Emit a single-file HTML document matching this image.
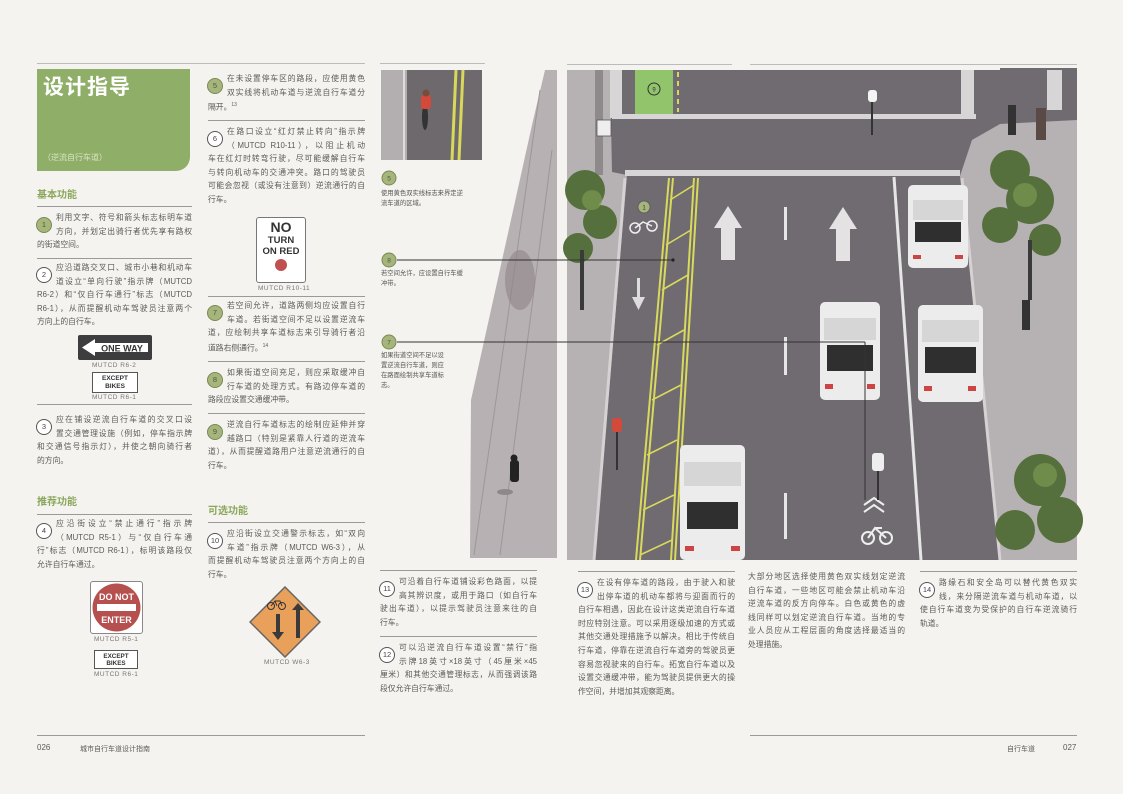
<!DOCTYPE html>
<html><head><meta charset="utf-8">
<style>
*{margin:0;padding:0;box-sizing:border-box}
body{width:1123px;height:794px;background:#f4f3ef;position:relative;overflow:hidden;font-family:"Liberation Sans","Noto Sans CJK SC",sans-serif;color:#5a5a5a}
.a{position:absolute}
.blk{position:absolute;font-size:7.8px}
.l{height:13.6px;line-height:13.6px;text-align:justify;text-align-last:justify;white-space:nowrap}
.i{padding-left:19px}
.e{text-align-last:left}
.c{position:absolute;left:-1px;top:6px;width:16px;height:16px;border-radius:50%;border:1.3px solid #555;background:#fff;font-size:7.5px;line-height:13.5px;text-align:center;color:#444}
.g{background:#a6b57c;border-color:#7a8a55;color:#4e5a35}
.rule{position:absolute;height:1px;background:#9a9a9a}
.h{position:absolute;font-size:10px;font-weight:bold;color:#8aa65a}
.cap{position:absolute;font-size:6.5px;color:#777;letter-spacing:.5px}
.side{position:absolute;font-size:6.3px;line-height:10px;color:#555;width:80px}
</style></head><body>

<div class="rule" style="left:37px;top:63px;width:328px;background:#bbb"></div>
<div class="rule" style="left:380px;top:63px;width:105px;background:#bbb"></div>
<div class="rule" style="left:567px;top:64px;width:165px;background:#bbb"></div>
<div class="rule" style="left:750px;top:64px;width:327px;background:#bbb"></div>

<div class="a" style="left:37px;top:69px;width:153px;height:102px;background:#8fae68;border-bottom-right-radius:14px"></div>
<div class="a" style="left:43px;top:71px;font-size:21px;font-weight:bold;color:#fff;letter-spacing:1px">设计指导</div>
<div class="a" style="left:43px;top:152px;font-size:8px;color:#d8e4c4">（逆流自行车道）</div>

<div class="h" style="left:37px;top:186px">基本功能</div>
<div class="rule" style="left:37px;top:206px;width:155px"></div>
<div class="blk" style="left:37px;top:211px;width:155px"><div class="c g">1</div>
<div class="l i">利用文字、符号和箭头标志标明车道</div><div class="l i">方向，并划定出骑行者优先享有路权</div><div class="l e">的街道空间。</div></div>
<div class="rule" style="left:37px;top:258px;width:155px"></div>
<div class="blk" style="left:37px;top:261px;width:155px"><div class="c">2</div>
<div class="l i">应沿道路交叉口、城市小巷和机动车</div><div class="l i">道设立“单向行驶”指示牌（MUTCD</div><div class="l">R6-2）和“仅自行车通行”标志（MUTCD</div><div class="l">R6-1），从而提醒机动车驾驶员注意两个</div><div class="l e">方向上的自行车。</div></div>

<div class="a" style="left:78px;top:335px;width:74px;height:25px;background:#3d3d3f;border-radius:2px"></div>
<svg class="a" style="left:78px;top:335px" width="74" height="25"><polygon points="4,12.5 17,4 17,8 70,8 70,17 17,17 17,21" fill="#fff"/><text x="44" y="16.5" font-family="Liberation Sans" font-weight="bold" font-size="9" text-anchor="middle" fill="#333">ONE WAY</text></svg>
<div class="cap" style="left:92px;top:362px">MUTCD R6-2</div>
<div class="a" style="left:92px;top:372px;width:46px;height:21px;border:1.2px solid #555;background:#fff;font-size:6.5px;line-height:8px;text-align:center;font-weight:bold;color:#333;padding-top:2px">EXCEPT<br>BIKES</div>
<div class="cap" style="left:92px;top:394px">MUTCD R6-1</div>

<div class="rule" style="left:37px;top:404px;width:155px"></div>
<div class="blk" style="left:37px;top:413px;width:155px"><div class="c">3</div>
<div class="l i">应在铺设逆流自行车道的交叉口设</div><div class="l i">置交通管理设施（例如，停车指示牌</div><div class="l">和交通信号指示灯），并使之朝向骑行者</div><div class="l e">的方向。</div></div>

<div class="h" style="left:37px;top:493px">推荐功能</div>
<div class="rule" style="left:37px;top:514px;width:155px"></div>
<div class="blk" style="left:37px;top:517px;width:155px"><div class="c">4</div>
<div class="l i">应沿街设立“禁止通行”指示牌</div><div class="l i">（MUTCD R5-1）与“仅自行车通</div><div class="l">行”标志（MUTCD R6-1），标明该路段仅</div><div class="l e">允许自行车通过。</div></div>

<div class="a" style="left:90px;top:581px;width:53px;height:53px;border:1px solid #888;background:#fff;border-radius:3px"></div>
<svg class="a" style="left:90px;top:581px" width="53" height="53"><circle cx="26.5" cy="26.5" r="24" fill="#b5504f"/><rect x="7" y="23" width="39" height="7" fill="#fff"/><text x="26.5" y="19" font-size="9" font-weight="bold" fill="#fff" text-anchor="middle" font-family="Liberation Sans">DO NOT</text><text x="26.5" y="42" font-size="9" font-weight="bold" fill="#fff" text-anchor="middle" font-family="Liberation Sans">ENTER</text></svg>
<div class="cap" style="left:94px;top:636px">MUTCD R5-1</div>
<div class="a" style="left:94px;top:650px;width:44px;height:19px;border:1.2px solid #555;background:#fff;font-size:6.3px;line-height:7.5px;text-align:center;font-weight:bold;color:#333;padding-top:1.5px">EXCEPT<br>BIKES</div>
<div class="cap" style="left:94px;top:671px">MUTCD R6-1</div>

<div class="blk" style="left:208px;top:72px;width:157px"><div class="c g">5</div>
<div class="l i">在未设置停车区的路段，应使用黄色</div><div class="l i">双实线将机动车道与逆流自行车道分</div><div class="l e">隔开。<sup style="font-size:5px">13</sup></div></div>
<div class="rule" style="left:208px;top:120px;width:157px"></div>
<div class="blk" style="left:208px;top:125px;width:157px"><div class="c">6</div>
<div class="l i">在路口设立“红灯禁止转向”指示牌</div><div class="l i">（MUTCD R10-11），以阻止机动</div><div class="l">车在红灯时转弯行驶，尽可能缓解自行车</div><div class="l">与转向机动车的交通冲突。路口的驾驶员</div><div class="l">可能会忽视（或没有注意到）逆流通行的自</div><div class="l e">行车。</div></div>

<div class="a" style="left:256px;top:217px;width:50px;height:66px;border:1.5px solid #777;background:#fff;border-radius:3px;text-align:center;color:#333;font-weight:bold">
<div style="font-size:14px;line-height:15px;margin-top:2px">NO</div><div style="font-size:9.5px;line-height:11px">TURN</div><div style="font-size:9.5px;line-height:11px">ON RED</div>
<div style="width:12px;height:12px;border-radius:50%;background:#c0504f;margin:2px auto 0"></div></div>
<div class="cap" style="left:258px;top:285px">MUTCD R10-11</div>

<div class="rule" style="left:208px;top:296px;width:157px"></div>
<div class="blk" style="left:208px;top:299px;width:157px"><div class="c g">7</div>
<div class="l i">若空间允许，道路两侧均应设置自行</div><div class="l i">车道。若街道空间不足以设置逆流车</div><div class="l">道，应绘制共享车道标志来引导骑行者沿</div><div class="l e">道路右侧通行。<sup style="font-size:5px">14</sup></div></div>
<div class="rule" style="left:208px;top:361px;width:157px"></div>
<div class="blk" style="left:208px;top:366px;width:157px"><div class="c g">8</div>
<div class="l i">如果街道空间充足，则应采取缓冲自</div><div class="l i">行车道的处理方式。有路边停车道的</div><div class="l e">路段应设置交通缓冲带。</div></div>
<div class="rule" style="left:208px;top:413px;width:157px"></div>
<div class="blk" style="left:208px;top:418px;width:157px"><div class="c g">9</div>
<div class="l i">逆流自行车道标志的绘制应延伸并穿</div><div class="l i">越路口（特别是紧靠人行道的逆流车</div><div class="l">道），从而提醒道路用户注意逆流通行的自</div><div class="l e">行车。</div></div>

<div class="h" style="left:208px;top:502px">可选功能</div>
<div class="rule" style="left:208px;top:522px;width:157px"></div>
<div class="blk" style="left:208px;top:527px;width:157px"><div class="c">10</div>
<div class="l i">应沿街设立交通警示标志，如“双向</div><div class="l i">车道”指示牌（MUTCD W6-3），从</div><div class="l">而提醒机动车驾驶员注意两个方向上的自</div><div class="l e">行车。</div></div>
<svg class="a" style="left:249px;top:586px" width="72" height="72"><polygon points="36,1 71,36 36,71 1,36" fill="#e9a05a" stroke="#666" stroke-width="1.5"/><polygon points="43,24 49,17 55,24 51,24 51,52 47,52 47,24" fill="#3a3a3a"/><polygon points="27,28 31,28 31,46 35,46 29,54 23,46 27,46" fill="#3a3a3a"/><circle cx="22" cy="20" r="3.5" fill="none" stroke="#333"/><circle cx="33" cy="20" r="3.5" fill="none" stroke="#333"/><path d="M22 20 L26 15 L31 15 L33 20 M26 15 L28 20" stroke="#333" fill="none"/></svg>
<div class="cap" style="left:264px;top:659px">MUTCD W6-3</div>

<div class="rule" style="left:380px;top:570px;width:157px"></div>
<div class="blk" style="left:380px;top:575px;width:157px"><div class="c">11</div>
<div class="l i">可沿着自行车道铺设彩色路面，以提</div><div class="l i">高其辨识度，或用于路口（如自行车</div><div class="l">驶出车道），以提示驾驶员注意来往的自</div><div class="l e">行车。</div></div>
<div class="rule" style="left:380px;top:636px;width:157px"></div>
<div class="blk" style="left:380px;top:641px;width:157px"><div class="c">12</div>
<div class="l i">可以沿逆流自行车道设置“禁行”指</div><div class="l i">示牌18英寸×18英寸（45厘米×45</div><div class="l">厘米）和其他交通管理标志，从而强调该路</div><div class="l e">段仅允许自行车通过。</div></div>

<div class="rule" style="left:578px;top:571px;width:157px"></div>
<div class="blk" style="left:578px;top:576px;width:157px"><div class="c">13</div>
<div class="l i">在设有停车道的路段，由于驶入和驶</div><div class="l i">出停车道的机动车都将与迎面而行的</div><div class="l">自行车相遇，因此在设计这类逆流自行车道</div><div class="l">时应特别注意。可以采用逐级加速的方式或</div><div class="l">其他交通处理措施予以解决。相比于传统自</div><div class="l">行车道，停靠在逆流自行车道旁的驾驶员更</div><div class="l">容易忽视驶来的自行车。拓宽自行车道以及</div><div class="l">设置交通缓冲带，能为驾驶员提供更大的操</div><div class="l e">作空间，并增加其观察距离。</div></div>

<div class="blk" style="left:748px;top:570px;width:157px">
<div class="l">大部分地区选择使用黄色双实线划定逆流</div><div class="l">自行车道，一些地区可能会禁止机动车沿</div><div class="l">逆流车道的反方向停车。白色或黄色的虚</div><div class="l">线同样可以划定逆流自行车道。当地的专</div><div class="l">业人员应从工程层面的角度选择最适当的</div><div class="l e">处理措施。</div></div>

<div class="rule" style="left:920px;top:571px;width:157px"></div>
<div class="blk" style="left:920px;top:576px;width:157px"><div class="c">14</div>
<div class="l i">路缘石和安全岛可以替代黄色双实</div><div class="l i">线，来分隔逆流车道与机动车道，以</div><div class="l">使自行车道变为受保护的自行车逆流骑行</div><div class="l e">轨道。</div></div>

<div class="rule" style="left:37px;top:735px;width:328px"></div>
<div class="rule" style="left:750px;top:735px;width:327px"></div>
<div class="a" style="left:37px;top:743px;font-size:8px">026</div>
<div class="a" style="left:80px;top:744px;font-size:7px">城市自行车道设计指南</div>
<div class="a" style="left:1007px;top:744px;font-size:7px">自行车道</div>
<div class="a" style="left:1063px;top:743px;font-size:8px">027</div>

<svg class="a" style="left:0;top:0" width="1123" height="794">
<rect x="381" y="70" width="101" height="90" fill="#6d696d"/>
<rect x="381" y="70" width="26" height="90" fill="#b3aeaf"/>
<line x1="404" y1="70" x2="404" y2="160" stroke="#ddd" stroke-width="2"/>
<line x1="456" y1="70" x2="452" y2="160" stroke="#d8d85a" stroke-width="3"/>
<line x1="463" y1="70" x2="459" y2="160" stroke="#d8d85a" stroke-width="3"/>
<ellipse cx="425" cy="117" rx="3" ry="13" fill="#333"/>
<rect x="421" y="95" width="10" height="14" rx="3" fill="#d44a3a"/>
<circle cx="426" cy="93" r="3.5" fill="#7a4a3a"/>
<polygon points="545,70 557,70 557,558 470,558 471,400 532,125" fill="#b8b1b3"/>
<line x1="540" y1="90" x2="474" y2="555" stroke="#9d9698" stroke-width="1"/>
<line x1="552" y1="150" x2="500" y2="555" stroke="#9d9698" stroke-width="1"/>
<ellipse cx="520" cy="280" rx="15" ry="30" fill="#8c8486" opacity=".6"/>
<rect x="510" y="460" width="9" height="22" rx="3" fill="#222"/>
<circle cx="514" cy="458" r="3.5" fill="#222"/>
<ellipse cx="505" cy="492" rx="8" ry="3" fill="#8f8789"/>

<rect x="567" y="70" width="510" height="490" fill="#6f6b70"/>
<polygon points="567,70 610,70 612,172 627,175 595,560 567,560" fill="#b6b1b3"/>
<line x1="625" y1="178" x2="594" y2="560" stroke="#d6d2d3" stroke-width="3"/>
<polygon points="960,176 972,140 1000,124 1077,120 1077,560 1000,560" fill="#b6b1b3"/>
<line x1="962" y1="178" x2="1000" y2="560" stroke="#d6d2d3" stroke-width="3"/>
<rect x="1000" y="68" width="77" height="40" fill="#6f6b70"/>
<rect x="612" y="114" width="364" height="5" fill="#d8d5d6"/>
<rect x="625" y="170" width="335" height="6" fill="#d8d5d6"/>
<rect x="610" y="70" width="12" height="48" fill="#d8d5d6"/>
<rect x="961" y="70" width="13" height="48" fill="#d8d5d6"/>
<rect x="1047" y="70" width="15" height="40" fill="#d8d5d6"/>
<rect x="635" y="70" width="38" height="44" fill="#92c46c"/>
<line x1="678" y1="72" x2="678" y2="112" stroke="#d8d85a" stroke-width="2" stroke-dasharray="5,4"/>
<circle cx="654" cy="89" r="6" fill="none" stroke="#333"/><text x="654" y="91.5" font-size="6" text-anchor="middle" fill="#333">9</text>
<rect x="595" y="70" width="8" height="105" fill="#8e8a8c"/>
<rect x="597" y="120" width="14" height="16" fill="#eee" stroke="#555" stroke-width=".8"/>
<line x1="669" y1="178" x2="636" y2="560" stroke="#d9d95c" stroke-width="2"/>
<line x1="673" y1="178" x2="640" y2="560" stroke="#d9d95c" stroke-width="2"/>
<line x1="694" y1="178" x2="671" y2="560" stroke="#d9d95c" stroke-width="2"/>
<line x1="698" y1="178" x2="675" y2="560" stroke="#d9d95c" stroke-width="2"/>
<g stroke="#d9d95c" stroke-width="1.6">
<line x1="670" y1="200" x2="694" y2="185"/><line x1="666" y1="245" x2="691" y2="230"/><line x1="662" y1="290" x2="688" y2="275"/><line x1="657" y1="345" x2="684" y2="330"/><line x1="652" y1="400" x2="681" y2="385"/><line x1="647" y1="455" x2="677" y2="440"/><line x1="643" y1="510" x2="674" y2="495"/><line x1="640" y1="555" x2="672" y2="540"/></g>
<circle cx="644" cy="207" r="6" fill="#a6b57c" stroke="#555" stroke-width=".8"/><text x="644" y="209.5" font-size="6" text-anchor="middle" fill="#333">1</text>
<g stroke="#eee" stroke-width="1.5" fill="none"><circle cx="635" cy="228" r="5"/><circle cx="652" cy="226" r="5"/><path d="M635 228 L643 222 L652 226"/></g>
<rect x="637" y="278" width="3" height="22" fill="#ddd"/><polygon points="632,297 645,297 638.5,310" fill="#ddd"/>
<rect x="784" y="207" width="3" height="33" fill="#e6e6e6"/>
<rect x="784" y="337" width="3" height="38" fill="#e6e6e6"/>
<rect x="784" y="493" width="3" height="46" fill="#e6e6e6"/>
<line x1="894" y1="177" x2="921" y2="560" stroke="#e6e6e6" stroke-width="3"/>
<polygon points="728,206 742,228 735,228 735,260 721,260 721,228 714,228" fill="#e4e2e3"/>
<polygon points="843,207 857,229 850,229 850,261 836,261 836,229 829,229" fill="#e4e2e3"/>
<g stroke="#eee" stroke-width="2" fill="none"><path d="M864 505 L874 498 L884 505 M864 512 L874 505 L884 512"/><circle cx="868" cy="538" r="6"/><circle cx="886" cy="538" r="6"/><path d="M868 538 L875 528 L886 538 M875 528 L882 528"/></g>
<g fill="#56703d"><circle cx="585" cy="190" r="20"/><circle cx="600" cy="222" r="17"/><circle cx="578" cy="248" r="15"/><circle cx="1010" cy="170" r="20"/><circle cx="1030" cy="200" r="24"/><circle cx="1000" cy="225" r="18"/><circle cx="1045" cy="240" r="16"/><circle cx="1040" cy="480" r="26"/><circle cx="1060" cy="520" r="23"/><circle cx="1015" cy="530" r="20"/></g>
<g fill="#7a9850" opacity=".7"><circle cx="592" cy="200" r="10"/><circle cx="1025" cy="195" r="12"/><circle cx="1045" cy="475" r="12"/></g>
<rect x="580" y="250" width="4" height="60" fill="#3a3a3a"/>
<rect x="1028" y="240" width="4" height="60" fill="#3a3a3a"/>
<g>
<rect x="908" y="185" width="60" height="83" rx="5" fill="#ececec"/><rect x="913" y="200" width="50" height="20" fill="#d6d6d6"/><rect x="915" y="222" width="46" height="20" fill="#2f2f2f"/><rect x="913" y="255" width="8" height="4" fill="#c44"/><rect x="955" y="255" width="8" height="4" fill="#c44"/>
<rect x="820" y="302" width="60" height="98" rx="5" fill="#ececec"/><rect x="824" y="318" width="52" height="22" fill="#d6d6d6"/><rect x="827" y="345" width="46" height="26" fill="#2f2f2f"/><rect x="825" y="384" width="8" height="5" fill="#c44"/><rect x="867" y="384" width="8" height="5" fill="#c44"/>
<rect x="918" y="305" width="65" height="97" rx="5" fill="#ececec"/><rect x="922" y="320" width="57" height="22" fill="#d6d6d6"/><rect x="925" y="347" width="51" height="26" fill="#2f2f2f"/><rect x="924" y="386" width="8" height="5" fill="#c44"/><rect x="968" y="386" width="8" height="5" fill="#c44"/>
<rect x="680" y="445" width="65" height="115" rx="5" fill="#ececec"/><rect x="684" y="462" width="57" height="24" fill="#d6d6d6"/><rect x="687" y="502" width="51" height="27" fill="#2f2f2f"/><rect x="685" y="546" width="9" height="5" fill="#c44"/><rect x="731" y="546" width="9" height="5" fill="#c44"/>
</g>
<rect x="612" y="418" width="10" height="14" rx="3" fill="#d44a3a"/><line x1="617" y1="432" x2="617" y2="470" stroke="#333" stroke-width="2"/>
<rect x="868" y="90" width="9" height="12" rx="3" fill="#f4f4f4"/><line x1="872" y1="102" x2="872" y2="135" stroke="#333" stroke-width="2"/>
<rect x="872" y="453" width="12" height="18" rx="3" fill="#eee"/><line x1="878" y1="471" x2="878" y2="500" stroke="#333" stroke-width="2"/>
<rect x="1008" y="105" width="8" height="30" fill="#333"/><rect x="1036" y="108" width="10" height="32" fill="#5a4a45"/><rect x="1022" y="300" width="8" height="30" fill="#333"/>
<line x1="397" y1="260" x2="673" y2="260" stroke="#333" stroke-width="1"/>
<line x1="397" y1="342" x2="865" y2="342" stroke="#333" stroke-width="1"/>
<line x1="865" y1="342" x2="865" y2="500" stroke="#333" stroke-width="1"/>
<circle cx="673" cy="260" r="1.6" fill="#222"/>
<circle cx="389" cy="178" r="7" fill="#a6b57c" stroke="#7a8a55"/><text x="389" y="180.5" font-size="6.5" text-anchor="middle" fill="#4e5a35">5</text>
<circle cx="389" cy="260" r="7" fill="#a6b57c" stroke="#7a8a55"/><text x="389" y="262.5" font-size="6.5" text-anchor="middle" fill="#4e5a35">8</text>
<circle cx="389" cy="342" r="7" fill="#a6b57c" stroke="#7a8a55"/><text x="389" y="344.5" font-size="6.5" text-anchor="middle" fill="#4e5a35">7</text>
</svg>
<div class="side" style="left:381px;top:189px;width:100px">使用黄色双实线标志来界定逆<br>流车道的区域。</div>
<div class="side" style="left:381px;top:269px;width:100px">若空间允许，应设置自行车缓<br>冲带。</div>
<div class="side" style="left:381px;top:351px;width:80px">如果街道空间不足以设<br>置逆流自行车道，则应<br>在路面绘制共享车道标<br>志。</div>
</body></html>
